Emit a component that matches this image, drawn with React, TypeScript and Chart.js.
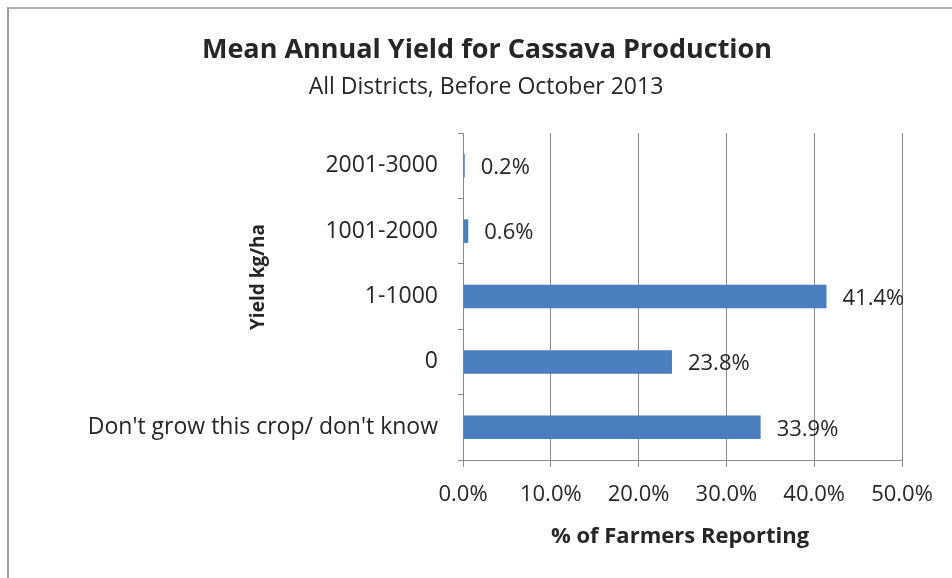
import React, { useEffect, useRef } from "react";
import { Chart, registerables } from "chart.js";

Chart.register(...registerables);

const categories = [
  "2001-3000",
  "1001-2000",
  "1-1000",
  "0",
  "Don't grow this crop/ don't know",
];
const values = [0.2, 0.6, 41.4, 23.8, 33.9];
const xTicks = [0, 10, 20, 30, 40, 50];
const titleText = "Mean Annual Yield for Cassava Production";
const subtitleText = "All Districts, Before October 2013";
const xTitle = "% of Farmers Reporting";
const yTitle = "Yield kg/ha";

const FONT = "'Open Sans', Lato, sans-serif";
const TEXT = "#262626";

const textPlugin = {
  id: "textPlugin",
  afterDraw(chart: any) {
    const ctx = chart.ctx;
    ctx.save();
    ctx.fillStyle = TEXT;
    ctx.textAlign = "center";
    ctx.textBaseline = "middle";
    ctx.font = `bold 27px ${FONT}`;
    ctx.fillText(titleText, 487, 50);
    ctx.font = `23px ${FONT}`;
    ctx.fillText(subtitleText, 486, 87);
    ctx.font = `bold 22px ${FONT}`;
    ctx.fillText(xTitle, 680, 537);
    ctx.save();
    ctx.translate(259, 277);
    ctx.rotate(-Math.PI / 2);
    ctx.font = `bold 19px ${FONT}`;
    ctx.fillText(yTitle, 0, 0);
    ctx.restore();
    // data labels
    const meta = chart.getDatasetMeta(0);
    ctx.font = `22px ${FONT}`;
    ctx.textAlign = "left";
    meta.data.forEach((bar: any, i: number) => {
      ctx.fillText(values[i].toFixed(1) + "%", bar.x + 16, bar.y + 2);
    });
    ctx.restore();
  },
};

export default function App() {
  const ref = useRef<HTMLCanvasElement | null>(null);
  useEffect(() => {
    if (!ref.current) return;
    const chart = new Chart(ref.current, {
      type: "bar",
      data: {
        labels: categories,
        datasets: [
          {
            data: values,
            backgroundColor: "#4a7ebf",
            borderWidth: 0,
            barPercentage: 0.36,
            categoryPercentage: 1,
          },
        ],
      },
      options: {
        indexAxis: "y",
        responsive: false,
        animation: false,
        layout: { padding: { top: 133, left: 0, right: 50, bottom: 0 } },
        plugins: {
          legend: { display: false },
          title: { display: false },
          tooltip: { enabled: false },
        },
        scales: {
          x: {
            type: "linear",
            min: 0,
            max: 50,
            afterFit: (s: any) => {
              s.height = 118;
            },
            afterBuildTicks: (s: any) => {
              s.ticks = xTicks.map((v) => ({ value: v }));
            },
            ticks: {
              stepSize: 10,
              padding: 15,
              color: TEXT,
              font: { family: FONT, size: 22 },
              callback: (v: any) => Number(v).toFixed(1) + "%",
            },
            grid: {
              color: "#8a8a8a",
              lineWidth: 1,
              tickLength: 7,
              drawTicks: true,
            },
            border: { display: true, color: "#8a8a8a" },
          },
          y: {
            type: "category",
            afterFit: (s: any) => {
              s.width = 463;
            },
            ticks: {
              padding: 20,
              color: TEXT,
              font: { family: FONT, size: 23 },
            },
            grid: {
              offset: true,
              drawOnChartArea: false,
              drawTicks: true,
              tickLength: 5,
              color: "#8a8a8a",
            },
            border: { display: true, color: "#8a8a8a" },
          },
        },
      },
      plugins: [textPlugin],
    });
    return () => chart.destroy();
  }, []);
  return (
    <div
      style={{
        position: "absolute",
        left: 0,
        top: 0,
        width: 952,
        height: 578,
        background: "#fff",
      }}
    >
      <div
        style={{
          position: "absolute",
          left: 7,
          top: 7,
          right: 0,
          bottom: 0,
          borderLeft: "2px solid #9c9c9c",
          borderTop: "2px solid #b0b0b0",
        }}
      />
      <canvas
        ref={ref}
        width={952}
        height={578}
        style={{ position: "absolute", left: 0, top: 0, width: 952, height: 578 }}
      />
    </div>
  );
}
